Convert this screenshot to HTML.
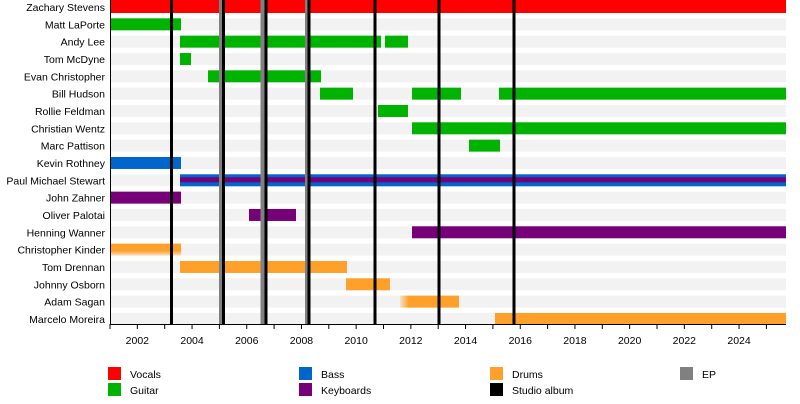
<!DOCTYPE html>
<html><head><meta charset="utf-8"><style>
html,body{margin:0;padding:0;background:#fff;width:800px;height:404px;overflow:hidden}
text{font-family:"Liberation Sans",Arial,sans-serif;font-size:10.5px;fill:#000}
</style></head><body>
<svg width="800" height="404" xmlns="http://www.w3.org/2000/svg">
<defs>
<linearGradient id="fb" x1="0" y1="0" x2="0" y2="1"><stop offset="0.6" stop-color="#ffa02a"/><stop offset="1" stop-color="#ffa02a" stop-opacity="0.2"/></linearGradient>
<linearGradient id="fl" x1="0" y1="0" x2="1" y2="0"><stop offset="0" stop-color="#ffa02a" stop-opacity="0.2"/><stop offset="0.15" stop-color="#ffa02a"/></linearGradient>
</defs>
<g id="stripes" fill="#f2f2f2"></g>
<g id="bars"></g>
<g id="vl"></g>
<g id="labels" text-anchor="end"></g>
<line x1="110.5" y1="0" x2="110.5" y2="324" stroke="#000" stroke-width="1"/>
<line x1="110" y1="324.5" x2="786" y2="324.5" stroke="#000" stroke-width="1"/>
<g id="ticks"></g>
<g id="legend">
<rect x="108" y="367" width="13" height="13" fill="#ff0000"/><text x="130" y="378">Vocals</text>
<rect x="108" y="383" width="13" height="13" fill="#00b300"/><text x="130" y="394">Guitar</text>
<rect x="299" y="367" width="13" height="13" fill="#0066cc"/><text x="321" y="378">Bass</text>
<rect x="299" y="383" width="13" height="13" fill="#750078"/><text x="321" y="394">Keyboards</text>
<rect x="490" y="367" width="13" height="13" fill="#ffa02a"/><text x="512" y="378">Drums</text>
<rect x="490" y="383" width="13" height="13" fill="#000"/><text x="512" y="394">Studio album</text>
<rect x="680" y="367" width="13" height="13" fill="#808080"/><text x="702" y="378">EP</text>
</g>
</svg>
<script>
var ns="http://www.w3.org/2000/svg";
function el(p,t,a,txt){var e=document.createElementNS(ns,t);for(var k in a)e.setAttribute(k,a[k]);if(txt)e.textContent=txt;document.getElementById(p).appendChild(e);return e;}
var G="#00b300",B="#0066cc",P="#750078",O="#ffa02a",R="#ff0000";
var rows=[
["Zachary Stevens",[[110,786,R]]],
["Matt LaPorte",[[110,181,G]]],
["Andy Lee",[[180,381,G],[385,408,G]]],
["Tom McDyne",[[180,191,G]]],
["Evan Christopher",[[208,321,G]]],
["Bill Hudson",[[320,353,G],[412,461,G],[499,786,G]]],
["Rollie Feldman",[[378,408,G]]],
["Christian Wentz",[[412,786,G]]],
["Marc Pattison",[[469,500,G]]],
["Kevin Rothney",[[110,181,B]]],
["Paul Michael Stewart",[[180,786,B]]],
["John Zahner",[[110,181,P]]],
["Oliver Palotai",[[249,296,P]]],
["Henning Wanner",[[412,786,P]]],
["Christopher Kinder",[[110,181,"url(#fb)"]]],
["Tom Drennan",[[180,347,O]]],
["Johnny Osborn",[[346,390,O]]],
["Adam Sagan",[[400,459,"url(#fl)"]]],
["Marcelo Moreira",[[495,786,O]]]];
rows.forEach(function(r,i){
 var c=7+17.33*i, top=c-6;
 if(i>0) el("stripes","rect",{x:110,y:top,width:676,height:12});
 el("labels","text",{x:105,y:c+4},r[0]);
 r[1].forEach(function(b){
  var y=top,h=12; if(i==0){y=0;h=13;}
  el("bars","rect",{x:b[0],y:y,width:b[1]-b[0],height:h,fill:b[2]});
 });
 if(i==10) el("bars","rect",{x:180,y:c-3,width:606,height:5,fill:P});
});
[[220.5,3],[262.5,4],[307.5,5]].forEach(function(v){el("vl","rect",{x:v[0]-v[1]/2,y:0,width:v[1],height:324,fill:"#808080"});});
[171.5,223.5,266,309,375,439,514].forEach(function(x){el("vl","rect",{x:x-1.5,y:0,width:3,height:324,fill:"#000"});});
for(var yr=2001;yr<=2025;yr++){var x=110+(yr-2001)*27.35;
 el("ticks","line",{x1:x,y1:324,x2:x,y2:329,stroke:"#000","stroke-width":1});
 if(yr%2==0) el("ticks","text",{x:x,y:344,"text-anchor":"middle"},String(yr));}
</script>
</body></html>
